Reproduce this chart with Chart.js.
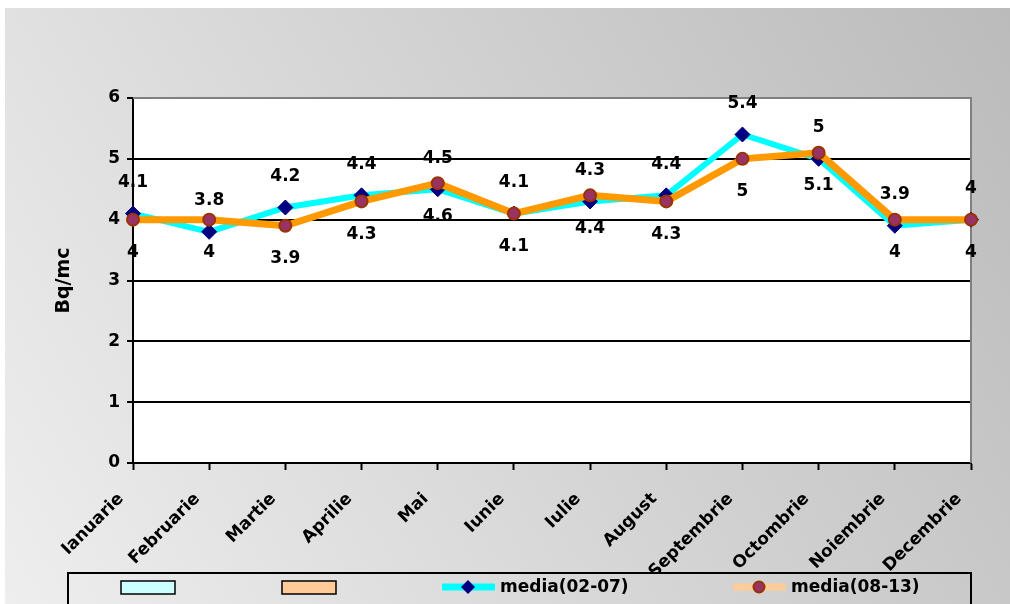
<!DOCTYPE html>
<html>
<head>
<meta charset="utf-8">
<script src="https://cdn.jsdelivr.net/npm/chart.js@4/dist/chart.umd.min.js"></script>
<style>
html,body{margin:0;padding:0;background:#fff;}
#wrap{width:1010px;height:604px;position:relative;}
</style>
</head>
<body>
<div id="wrap"><canvas id="c" width="1010" height="604"></canvas></div>
<script>
const categories = ["Ianuarie","Februarie","Martie","Aprilie","Mai","Iunie","Iulie","August","Septembrie","Octombrie","Noiembrie","Decembrie"];
const media0207 = [4.1, 3.8, 4.2, 4.4, 4.5, 4.1, 4.3, 4.4, 5.4, 5.0, 3.9, 4.0];
const media0813 = [4.0, 4.0, 3.9, 4.3, 4.6, 4.1, 4.4, 4.3, 5.0, 5.1, 4.0, 4.0];
const seriesNames = ["media(02-07)", "media(08-13)"];
const yTicks = [0, 1, 2, 3, 4, 5, 6];
const yTitle = "Bq/mc";

const FONT = "'DejaVu Sans', 'Liberation Sans', Arial, sans-serif";

function drawLegend(ctx) {
  ctx.save();
  ctx.strokeStyle = '#000';
  ctx.lineWidth = 2;
  ctx.strokeRect(68, 573, 903, 40);
  const cy = 587;
  ctx.lineWidth = 1.5;
  ctx.fillStyle = '#ccffff';
  ctx.fillRect(121, 581, 54, 13);
  ctx.strokeRect(121, 581, 54, 13);
  ctx.fillStyle = '#ffcc99';
  ctx.fillRect(282, 581, 54, 13);
  ctx.strokeRect(282, 581, 54, 13);
  ctx.strokeStyle = '#00ffff';
  ctx.lineWidth = 7;
  ctx.beginPath(); ctx.moveTo(442, cy); ctx.lineTo(495, cy); ctx.stroke();
  ctx.fillStyle = '#000080';
  ctx.beginPath();
  ctx.moveTo(468, cy - 7); ctx.lineTo(475, cy); ctx.lineTo(468, cy + 7); ctx.lineTo(461, cy); ctx.closePath();
  ctx.fill();
  ctx.strokeStyle = '#ffcc99';
  ctx.beginPath(); ctx.moveTo(733, cy); ctx.lineTo(786, cy); ctx.stroke();
  ctx.fillStyle = '#993366';
  ctx.strokeStyle = '#993300';
  ctx.lineWidth = 2;
  ctx.beginPath(); ctx.arc(759, cy, 5.5, 0, Math.PI * 2); ctx.fill(); ctx.stroke();
  ctx.fillStyle = '#000';
  ctx.font = 'bold 17px ' + FONT;
  ctx.textAlign = 'left';
  ctx.textBaseline = 'middle';
  ctx.fillText(seriesNames[0], 500, cy + 1);
  ctx.fillText(seriesNames[1], 791, cy + 1);
  ctx.restore();
}

const bgPlugin = {
  id: 'bg',
  beforeDraw(chart) {
    const ctx = chart.ctx;
    ctx.save();
    ctx.fillStyle = '#ffffff';
    ctx.fillRect(0, 0, chart.width, chart.height);
    const g = ctx.createLinearGradient(5, 604, 1010, 8);
    g.addColorStop(0, '#eeeeee');
    g.addColorStop(1, '#bbbbbb');
    ctx.fillStyle = g;
    ctx.fillRect(5, 8, chart.width - 5, chart.height - 8);
    const a = chart.chartArea;
    ctx.fillStyle = '#ffffff';
    ctx.fillRect(a.left, a.top, a.right - a.left, a.bottom - a.top);
    ctx.restore();
    drawLegend(ctx);
  },
  beforeDatasetsDraw(chart) {
    const ctx = chart.ctx, a = chart.chartArea;
    ctx.save();
    ctx.strokeStyle = '#808080';
    ctx.lineWidth = 2;
    ctx.beginPath();
    ctx.moveTo(a.left, a.top);
    ctx.lineTo(a.right, a.top);
    ctx.lineTo(a.right, a.bottom);
    ctx.stroke();
    ctx.restore();
  }
};

const labelPlugin = {
  id: 'dlabels',
  afterDatasetsDraw(chart) {
    const ctx = chart.ctx;
    ctx.save();
    ctx.font = 'bold 17px ' + FONT;
    ctx.fillStyle = '#000';
    ctx.textAlign = 'center';
    ctx.textBaseline = 'middle';
    chart.data.datasets.forEach((ds, i) => {
      const meta = chart.getDatasetMeta(i);
      const off = ds.labelOffset;
      meta.data.forEach((pt, j) => {
        const v = ds.data[j];
        ctx.fillText(String(v), pt.x, pt.y + off);
      });
    });
    ctx.restore();
  }
};

new Chart(document.getElementById('c'), {
  type: 'line',
  data: {
    labels: categories,
    datasets: [
      {
        label: seriesNames[0],
        data: media0207,
        borderColor: '#00ffff',
        borderWidth: 6,
        backgroundColor: '#000080',
        pointStyle: 'rectRot',
        pointRadius: 7.5,
        pointBackgroundColor: '#000080',
        pointBorderColor: '#000080',
        pointBorderWidth: 1,
        tension: 0,
        fill: false,
        clip: false,
        order: 1,
        labelOffset: -31
      },
      {
        label: seriesNames[1],
        data: media0813,
        borderColor: '#ff9900',
        borderWidth: 7,
        backgroundColor: '#993366',
        pointStyle: 'circle',
        pointRadius: 6,
        pointBackgroundColor: '#993366',
        pointBorderColor: '#993300',
        pointBorderWidth: 2,
        tension: 0,
        fill: false,
        clip: false,
        order: 0,
        labelOffset: 33
      }
    ]
  },
  options: {
    responsive: false,
    animation: false,
    events: [],
    layout: { padding: { top: 98, right: 39, left: 0, bottom: 31 } },
    plugins: { legend: { display: false }, tooltip: { enabled: false } },
    scales: {
      x: {
        offset: false,
        border: { display: true, color: '#000', width: 2 },
        grid: { display: true, drawOnChartArea: false, drawTicks: true, tickLength: 7, tickColor: '#000', tickWidth: 2 },
        ticks: {
          autoSkip: false, maxRotation: 45, minRotation: 45,
          color: '#000', font: { family: FONT, size: 17, weight: 'bold' }, padding: 19, labelOffset: -12
        },
        afterFit(s) { s.height = 110; }
      },
      y: {
        min: 0, max: 6,
        afterBuildTicks(s) { s.ticks = yTicks.map(v => ({ value: v })); },
        border: { display: true, color: '#000', width: 2 },
        grid: {
          color: (c) => (c.tick && c.tick.value === 6) ? '#808080' : '#000',
          lineWidth: 2, tickLength: 6, tickColor: '#000', tickWidth: 2
        },
        ticks: { color: '#000', font: { family: FONT, size: 17, weight: 'bold' }, padding: 7 },
        title: {
          display: true, text: yTitle, color: '#000',
          font: { family: FONT, size: 19, weight: 'bold' },
          padding: { top: 53, bottom: 0 }
        },
        afterFit(s) { s.width = 133; }
      }
    }
  },
  plugins: [bgPlugin, labelPlugin]
});
</script>
</body>
</html>
